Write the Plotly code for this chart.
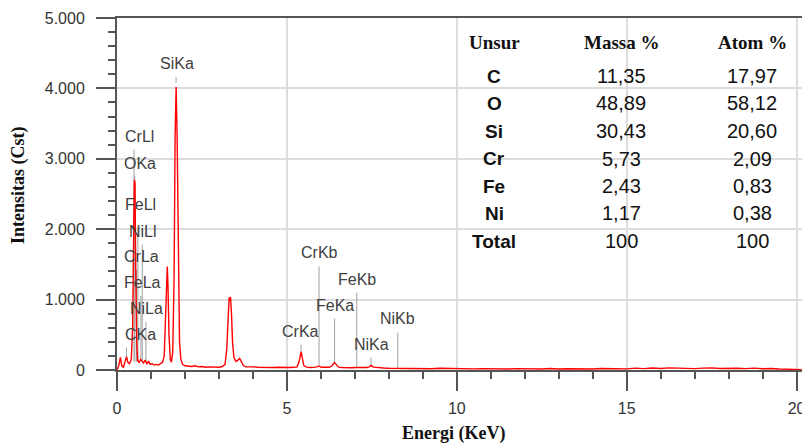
import plotly.graph_objects as go

# ---------------- data ----------------
energy_kev = [0.00, 0.05, 0.10, 0.14, 0.19, 0.24, 0.28, 0.32, 0.37, 0.42, 0.46, 0.49, 0.51, 0.53, 0.55,
              0.58, 0.61, 0.65, 0.70, 0.74, 0.78, 0.83, 0.88, 0.93, 0.98, 1.04, 1.10, 1.16, 1.22, 1.28,
              1.34, 1.39, 1.43, 1.46, 1.48, 1.50, 1.53, 1.57, 1.60, 1.64, 1.68, 1.71, 1.74, 1.77, 1.80,
              1.84, 1.88, 1.93, 2.00, 2.10, 2.20, 2.30, 2.40, 2.50, 2.60, 2.70, 2.80, 2.90, 3.00, 3.10,
              3.18, 3.23, 3.27, 3.30, 3.32, 3.34, 3.37, 3.40, 3.44, 3.50, 3.56, 3.61, 3.66, 3.72, 3.80,
              3.90, 4.00, 4.15, 4.30, 4.45, 4.60, 4.75, 4.90, 5.05, 5.20, 5.30, 5.36, 5.40, 5.42, 5.45,
              5.50, 5.58, 5.70, 5.85, 5.94, 6.02, 6.15, 6.25, 6.33, 6.40, 6.45, 6.52, 6.62, 6.75, 6.90,
              7.05, 7.20, 7.35, 7.42, 7.48, 7.55, 7.70, 7.85, 8.00, 8.25, 8.50, 8.75, 9.00, 9.25, 9.50,
              9.75, 10.00, 10.25, 10.50, 10.75, 11.00, 11.25, 11.50, 11.75, 12.00, 12.25, 12.50, 12.75,
              13.00, 13.25, 13.50, 13.75, 14.00, 14.25, 14.50, 14.75, 15.00, 15.25, 15.50, 15.75, 16.00,
              16.25, 16.50, 16.75, 17.00, 17.25, 17.50, 17.75, 18.00, 18.25, 18.50, 18.75, 19.00, 19.25,
              19.50, 19.75, 20.00, 20.15]
counts_cst = [0, 60, 180, 60, 40, 110, 190, 110, 90, 150, 600, 1900, 2700, 2650, 1500,
              400, 130, 110, 150, 130, 100, 140, 90, 120, 80, 90, 70, 80, 70, 90,
              110, 200, 700, 1300, 1470, 1200, 500, 150, 110, 250, 1300, 3300, 4020, 3300, 1500,
              400, 150, 80, 60, 55, 50, 60, 45, 50, 40, 45, 40, 45, 40, 50,
              80, 300, 800, 1030, 980, 1040, 800, 400, 180, 120, 140, 165, 120, 60, 45,
              40, 45, 40, 35, 40, 35, 38, 32, 35, 38, 45, 120, 250, 260, 180,
              60, 40, 35, 40, 55, 40, 35, 38, 60, 105, 80, 40, 35, 30, 32,
              35, 30, 35, 45, 65, 40, 30, 28, 25, 22, 25, 20, 22, 18, 24,
              20, 18, 22, 16, 20, 15, 18, 14, 20, 16, 18, 15, 22,
              14, 18, 16, 20, 15, 22, 18, 24, 16, 26, 20, 28, 22,
              30, 24, 28, 20, 26, 30, 22, 28, 24, 20, 26, 18, 22,
              15, 10, 8, 5]

peak_names = ["SiKa", "CrLl", "OKa", "FeLl", "NiLl", "CrLa", "FeLa", "NiLa", "CKa",
              "CrKa", "CrKb", "FeKa", "FeKb", "NiKa", "NiKb"]
peak_energy = [1.740, 0.500, 0.525, 0.615, 0.743, 0.573, 0.705, 0.851, 0.277,
               5.414, 5.946, 6.403, 7.057, 7.477, 8.264]
peak_label_y = [4360, 3310, 2940, 2350, 1965, 1610, 1240, 870, 505,
                545, 1665, 915, 1285, 360, 730]
peak_line_top = [4160, 3130, 2760, 2030, 1780, 1420, 1050, 680, 320,
                 360, 1470, 730, 1100, 175, 530]
peak_line_bottom = [4080, 120, 120, 120, 120, 120, 120, 120, 190,
                    260, 55, 105, 35, 65, 25]

y_tickvals = [0, 1000, 2000, 3000, 4000, 5000]
y_ticktext = ["0", "1.000", "2.000", "3.000", "4.000", "5.000"]
x_tickvals = [0, 5, 10, 15, 20]
x_ticktext = ["0", "5", "10", "15", "20"]

table_header = ["Unsur", "Massa %", "Atom %"]
table_unsur = ["C", "O", "Si", "Cr", "Fe", "Ni", "Total"]
table_massa = ["11,35", "48,89", "30,43", "5,73", "2,43", "1,17", "100"]
table_atom = ["17,97", "58,12", "20,60", "2,09", "0,83", "0,38", "100"]

# ---------------- styling / layout ----------------
W, H = 802, 444
ML, MR, MT, MB = 117, 0, 18, 74
PW, PH = W - ML - MR, H - MT - MB

label_xshift = [1, 5.5, 5.6, 2.6, 0.7, 5.5, 2, 0.6, 14, 0, 0, 0, 0, 0, 0]

def px(xp):
    return (xp - ML) / PW

def py(yp):
    return (H - MB - yp) / PH

sans = "Arial, Liberation Sans, sans-serif"
serif = "Times New Roman, Liberation Serif, serif"
axis_col = "#555555"
grid_col = "#dcdcdc"

fig = go.Figure()

# marker lines
lx, ly = [], []
for e, t, b in zip(peak_energy, peak_line_top, peak_line_bottom):
    lx += [e, e, None]
    ly += [b, t, None]
fig.add_trace(go.Scatter(x=lx, y=ly, mode="lines",
                         line=dict(color="#a0a0a0", width=1), hoverinfo="skip",
                         showlegend=False))

fig.add_trace(go.Scatter(x=energy_kev, y=counts_cst, mode="lines",
                         line=dict(color="#ff0000", width=1.4), showlegend=False))

annotations = []
for name, e, yl, xs in zip(peak_names, peak_energy, peak_label_y, label_xshift):
    annotations.append(dict(x=e, y=yl, xref="x", yref="y", text=name, showarrow=False,
                            xshift=xs, font=dict(family=sans, size=16, color="#404040"),
                            xanchor="center", yanchor="middle"))

col_x = [494, 621, 752]
row_y = [76, 103, 131, 159, 186, 213, 241]
for cx, h in zip(col_x, table_header):
    annotations.append(dict(x=px(cx), y=py(42), xref="paper", yref="paper", text="<b>%s</b>" % h,
                            showarrow=False, xanchor="center", yanchor="middle",
                            font=dict(family=serif, size=19, color="#111111")))
for ry, u, m, a in zip(row_y, table_unsur, table_massa, table_atom):
    annotations.append(dict(x=px(col_x[0]), y=py(ry), xref="paper", yref="paper", text="<b>%s</b>" % u,
                            showarrow=False, xanchor="center", yanchor="middle",
                            font=dict(family=sans, size=19, color="#111111")))
    for cx, v in ((col_x[1], m), (col_x[2], a)):
        annotations.append(dict(x=px(cx), y=py(ry), xref="paper", yref="paper", text=v,
                                showarrow=False, xanchor="center", yanchor="middle",
                                font=dict(family=sans, size=20, color="#111111")))

annotations.append(dict(x=px(18), y=py(185), xref="paper", yref="paper", text="<b>Intensitas (Cst)</b>",
                        textangle=-90, showarrow=False, xanchor="center", yanchor="middle",
                        font=dict(family=serif, size=18, color="#111111")))
annotations.append(dict(x=px(453), y=py(433), xref="paper", yref="paper", text="<b>Energi (KeV)</b>",
                        showarrow=False, xanchor="center", yanchor="middle",
                        font=dict(family=serif, size=18, color="#111111")))

fig.update_layout(
    width=W, height=H,
    margin=dict(l=ML, r=MR, t=MT, b=MB, pad=0),
    paper_bgcolor="white", plot_bgcolor="white",
    annotations=annotations,
    showlegend=False,
)
fig.update_xaxes(range=[0, 20.16], tickvals=x_tickvals, ticktext=x_ticktext,
                 showgrid=True, gridcolor=grid_col, gridwidth=1.5,
                 showline=True, linecolor=axis_col, linewidth=2, mirror=True,
                 ticks="outside", ticklen=19, tickwidth=2, tickcolor=axis_col,
                 minor=dict(dtick=1, ticks="outside", ticklen=7, tickwidth=1.5, tickcolor=axis_col, showgrid=False),
                 tickfont=dict(family=sans, size=16, color="#333333"),
                 zeroline=False, automargin=False, layer="below traces", ticklabelstandoff=4,
                 ticklabeloverflow="allow")
fig.update_yaxes(range=[0, 5000], tickvals=y_tickvals, ticktext=y_ticktext,
                 showgrid=True, gridcolor=grid_col, gridwidth=1.5,
                 showline=True, linecolor=axis_col, linewidth=2,
                 ticks="outside", ticklen=19, tickwidth=2, tickcolor=axis_col,
                 minor=dict(dtick=200, ticks="outside", ticklen=7, tickwidth=1.5, tickcolor=axis_col, showgrid=False),
                 tickfont=dict(family=sans, size=16, color="#333333"),
                 zeroline=False, automargin=False, layer="below traces", ticklabelstandoff=8,
                 ticklabeloverflow="allow")

fig.write_html("out.html")
